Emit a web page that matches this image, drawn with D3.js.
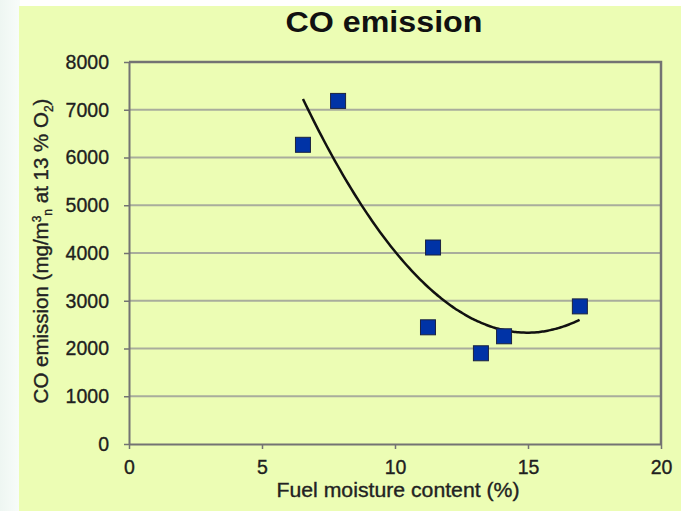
<!DOCTYPE html>
<html>
<head>
<meta charset="utf-8">
<script src="https://cdn.jsdelivr.net/npm/d3@7"></script>
<style>
  body { margin: 0; background: #fff; }
  svg { display: block; }
  .lbl { stroke: #222; stroke-width: 0.35px; }
</style>
</head>
<body>
<div id="chart"></div>
<script>
let moisture = [6.54, 7.86, 11.24, 11.43, 13.23, 14.1, 16.95];
let emission = [6266, 7185, 2444, 4115, 1900, 2256, 2882];
let xTicks = [0, 5, 10, 15, 20];
let yTicks = [0, 1000, 2000, 3000, 4000, 5000, 6000, 7000, 8000];

let width = 687,
	height = 511;
let margin = {top: 62, right: 26, bottom: 67, left: 129};

let svg = d3.select('#chart').append('svg')
	.attr('width', width)
	.attr('height', height);

// page background: pale strip on the left, yellow slide
let grad = svg.append('defs').append('linearGradient')
	.attr('id', 'side')
	.attr('x1', 0).attr('x2', 1);
grad.append('stop').attr('offset', '0%').attr('stop-color', '#eef6f2');
grad.append('stop').attr('offset', '100%').attr('stop-color', '#f8fcfa');
svg.append('rect').attr('x', 0).attr('y', 0).attr('width', 20).attr('height', height).attr('fill', 'url(#side)');
svg.append('rect')
	.attr('x', 19).attr('y', 6)
	.attr('width', 662).attr('height', height - 6)
	.attr('fill', '#ecfdb4');

let xScale = d3.scaleLinear()
	.domain([0, 20])
	.range([margin.left, width - margin.right]);

let yScale = d3.scaleLinear()
	.domain([0, 8000])
	.range([height - margin.bottom, margin.top]);

// gridlines
svg.append('g')
	.selectAll('line')
	.data(yTicks.filter(d => d > 0 && d < 8000))
	.enter()
	.append('line')
	.attr('x1', xScale(0))
	.attr('x2', xScale(20))
	.attr('y1', d => yScale(d))
	.attr('y2', d => yScale(d))
	.attr('stroke', '#a9ad9c')
	.attr('stroke-width', 2);

// top and right frame
svg.append('path')
	.attr('d', `M${xScale(0)},${yScale(8000)}H${xScale(20)}V${yScale(0)}`)
	.attr('fill', 'none')
	.attr('stroke', '#737373')
	.attr('stroke-width', 2.5);

let xaxis = d3.axisBottom(xScale)
	.tickValues(xTicks)
	.tickFormat(d3.format('d'))
	.tickSize(5)
	.tickPadding(11)
	.tickSizeOuter(0);

let yaxis = d3.axisLeft(yScale)
	.tickValues(yTicks)
	.tickFormat(d3.format('d'))
	.tickSize(5)
	.tickPadding(15)
	.tickSizeOuter(0);

let gx = svg.append('g')
	.attr('class', 'x-axis axis')
	.attr('transform', 'translate(0,' + yScale(0) + ')')
	.call(xaxis);

let gy = svg.append('g')
	.attr('class', 'y-axis axis')
	.attr('transform', 'translate(' + xScale(0) + ',0)')
	.call(yaxis);

[gx, gy].forEach(g => {
	g.select('.domain').attr('stroke', '#737373').attr('stroke-width', 2);
	g.selectAll('.tick line').attr('stroke', '#737373').attr('stroke-width', 1.5);
	g.selectAll('.tick text')
		.attr('class', 'lbl')
		.attr('fill', '#1e1e1e')
		.style('font-family', 'Liberation Sans, Arial, sans-serif')
		.style('font-size', '19.5px');
});
gx.selectAll('.tick text').attr('dy', '0.71em');

// quadratic trendline (least squares fit of the points)
let n = moisture.length;
let mx = d3.mean(moisture);
let d = moisture.map(v => v - mx);
let s2 = d3.sum(d, v => v * v), s3 = d3.sum(d, v => v ** 3), s4 = d3.sum(d, v => v ** 4);
let sy = d3.sum(emission), syd = d3.sum(d, (v, i) => v * emission[i]), syd2 = d3.sum(d, (v, i) => v * v * emission[i]);
// solve 3x3 normal equations
let A = [[n, 0, s2], [0, s2, s3], [s2, s3, s4]], B = [sy, syd, syd2];
function det3(m) {
	return m[0][0] * (m[1][1] * m[2][2] - m[1][2] * m[2][1])
		- m[0][1] * (m[1][0] * m[2][2] - m[1][2] * m[2][0])
		+ m[0][2] * (m[1][0] * m[2][1] - m[1][1] * m[2][0]);
}
let D = det3(A);
let coef = [0, 1, 2].map(c => det3(A.map((row, r) => row.map((v, k) => k === c ? B[r] : v))) / D);
let fit = x => coef[0] + coef[1] * (x - mx) + coef[2] * (x - mx) ** 2;

let xs = d3.range(d3.min(moisture), d3.max(moisture) + 0.001, 0.1);
svg.append('path')
	.datum(xs)
	.attr('fill', 'none')
	.attr('stroke', '#111')
	.attr('stroke-width', 2.5)
	.attr('d', d3.line().x(x => xScale(x)).y(x => yScale(fit(x))).curve(d3.curveMonotoneX));

// points
svg.selectAll('rect.pt')
	.data(moisture)
	.enter()
	.append('rect')
	.attr('class', 'pt')
	.attr('x', (v) => xScale(v) - 7.5)
	.attr('y', (v, i) => yScale(emission[i]) - 7.5)
	.attr('width', 15)
	.attr('height', 15)
	.attr('fill', '#0033a6')
	.attr('stroke', '#1b2340')
	.attr('stroke-width', 1);

// title
svg.append('text')
	.attr('x', 384)
	.attr('y', 32)
	.attr('text-anchor', 'middle')
	.attr('textLength', 197)
	.attr('lengthAdjust', 'spacingAndGlyphs')
	.style('font-family', 'Liberation Sans, Arial, sans-serif')
	.style('font-weight', 'bold')
	.style('font-size', '29px')
	.attr('fill', '#111')
	.text('CO emission');

// axis titles
svg.append('text')
	.attr('class', 'lbl')
	.attr('x', 398)
	.attr('y', 497)
	.attr('text-anchor', 'middle')
	.attr('textLength', 243)
	.attr('lengthAdjust', 'spacingAndGlyphs')
	.style('font-family', 'Liberation Sans, Arial, sans-serif')
	.style('font-size', '20px')
	.attr('fill', '#222')
	.text('Fuel moisture content (%)');

let yt = svg.append('text')
	.attr('class', 'lbl')
	.attr('transform', 'translate(48,251) rotate(-90)')
	.attr('text-anchor', 'middle')
	.style('font-family', 'Liberation Sans, Arial, sans-serif')
	.style('font-size', '20.5px')
	.attr('fill', '#222');
yt.append('tspan').text('CO emission (mg/m');
yt.append('tspan').attr('dy', -7).style('font-size', '12px').text('3');
yt.append('tspan').attr('dy', 11).style('font-size', '12px').text('n');
yt.append('tspan').attr('dy', -4).text(' at 13 % O');
yt.append('tspan').attr('dy', 5).style('font-size', '12px').text('2');
yt.append('tspan').attr('dy', -5).text(')');
</script>
</body>
</html>
